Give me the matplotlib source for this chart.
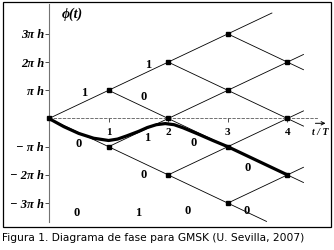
import matplotlib
matplotlib.use("Agg")
import matplotlib.pyplot as plt
from matplotlib.patches import Rectangle

# Trellis nodes (t/T, phase in units of pi*h)
node_t = [0, 1, 1, 2, 2, 2, 3, 3, 3, 3, 4, 4, 4]
node_m = [0, 1, -1, 2, 0, -2, 3, 1, -1, -3, 2, 0, -2]

# Trellis branches: start (t, m) -> end (t, m)
seg_t0 = [0, 0, 1, 1, 1, 1, 2, 2, 2, 2, 2, 2, 3, 3, 3, 3, 3, 3, 3, 3, 4, 4, 4, 4, 4, 4]
seg_m0 = [0, 0, 1, 1, -1, -1, 2, 2, 0, 0, -2, -2, 3, 3, 1, 1, -1, -1, -3, -3, 2, 2, 0, 0, -2, -2]
seg_t1 = [1, 1, 2, 2, 2, 2, 3, 3, 3, 3, 3, 3, 3.74, 4, 4, 4, 4, 4, 4, 3.65,
          4.27, 4.27, 4.27, 4.27, 4.27, 4.27]
seg_m1 = [1, -1, 2, 0, 0, -2, 3, 1, 1, -1, -1, -3, 3.74, 2, 2, 0, 0, -2, -2, -3.65,
          2.27, 1.73, 0.27, -0.27, -1.73, -2.27]

# GMSK phase path (bits 0 1 0 0)
curve_t = [0, 0.25, 0.5, 0.75, 1.0, 1.15, 1.3, 1.5, 1.65, 1.8, 1.95, 2.1, 2.25,
           2.5, 2.75, 3.0, 3.5, 4.0]
curve_m = [0, -0.29, -0.53, -0.70, -0.78, -0.73, -0.62, -0.46, -0.32, -0.22, -0.18,
           -0.22, -0.33, -0.55, -0.78, -1.0, -1.5, -2.0]

# bit labels on the branches
bit_t = [0.59, 1.66, 1.58, 0.49, 1.64, 2.42, 1.58, 3.34, 0.47, 1.49, 2.33, 3.31]
bit_m = [0.90, 1.90, 0.76, -0.90, -0.69, -0.87, -2.0, -1.76, -3.35, -3.35, -3.28, -3.28]
bit_txt = ["1", "1", "0", "0", "1", "0", "0", "0", "0", "1", "0", "0"]

phase_ticks = [3, 2, 1, -1, -2, -3]
phase_labels = ["3\u03c0 h", "2\u03c0 h", "\u03c0 h", "\u2212 \u03c0 h", "\u2212 2\u03c0 h", "\u2212 3\u03c0 h"]
time_ticks = [1, 2, 3, 4]
time_labels = ["1", "2", "3", "4"]

serif = ["Liberation Serif", "DejaVu Serif"]

fig = plt.figure(figsize=(3.34, 2.5), dpi=100)
ax = fig.add_axes([0, 0, 1, 1])
ax.set_xlim(-0.822, 4.782)
ax.set_ylim(-4.663, 4.202)

for s in ["top", "right"]:
    ax.spines[s].set_visible(False)
ax.spines["left"].set_position(("data", 0))
ax.spines["left"].set_bounds(-3.67, 4.06)
ax.spines["left"].set_color("0.45")
ax.spines["left"].set_linewidth(0.8)
ax.spines["bottom"].set_position(("data", 0))
ax.spines["bottom"].set_bounds(0, 4.5)
ax.spines["bottom"].set_color("0.35")
ax.spines["bottom"].set_linewidth(0.6)
ax.spines["bottom"].set_linestyle((0, (3, 2.5)))

ax.set_yticks(phase_ticks)
ax.set_yticklabels(phase_labels, fontfamily=serif, fontweight="bold",
                   fontstyle="italic", fontsize=9)
ax.set_xticks(time_ticks)
ax.set_xticklabels(time_labels, fontfamily=serif, fontweight="bold", fontsize=8)
ax.tick_params(axis="y", direction="out", length=3, width=0.7, pad=0.5, color="0.3")
ax.tick_params(axis="x", direction="out", length=3, width=0.7, pad=3.5, color="0.3")

for a, b, c, d in zip(seg_t0, seg_m0, seg_t1, seg_m1):
    ax.plot([a, c], [b, d], color="black", lw=0.6, zorder=2)

ax.plot(node_t, node_m, "s", color="black", ms=2.4, zorder=3)
ax.plot(curve_t, curve_m, color="black", lw=2.3, solid_capstyle="round", zorder=4)

for x, y, s in zip(bit_t, bit_m, bit_txt):
    ax.text(x, y, s, fontfamily=serif, fontweight="bold", fontsize=9,
            ha="center", va="center", zorder=5)

ax.text(0.386, 3.71, "\u03d5(t)", fontfamily=serif, fontweight="bold",
        fontstyle="italic", fontsize=10, ha="center", va="center")
# little arrow over t/T
ax.annotate("", xy=(4.64, -0.17), xytext=(4.47, -0.17),
            arrowprops=dict(arrowstyle="->", lw=0.7, color="black",
                            mutation_scale=6, shrinkA=0, shrinkB=0))
ax.text(4.55, -0.48, "t / T", fontfamily=serif, fontweight="bold",
        fontstyle="italic", fontsize=7, ha="center", va="center")

fig.add_artist(Rectangle((3 / 334, 1 - 227 / 250), 328 / 334, 225 / 250,
                         transform=fig.transFigure, fill=False, lw=0.9, ec="black"))

fig.text(2 / 334, 9 / 250, "Figura 1. Diagrama de fase para GMSK (U. Sevilla, 2007)",
         fontfamily="DejaVu Sans", fontsize=7.7, ha="left", va="baseline")

fig.savefig("out.png", dpi=100)
